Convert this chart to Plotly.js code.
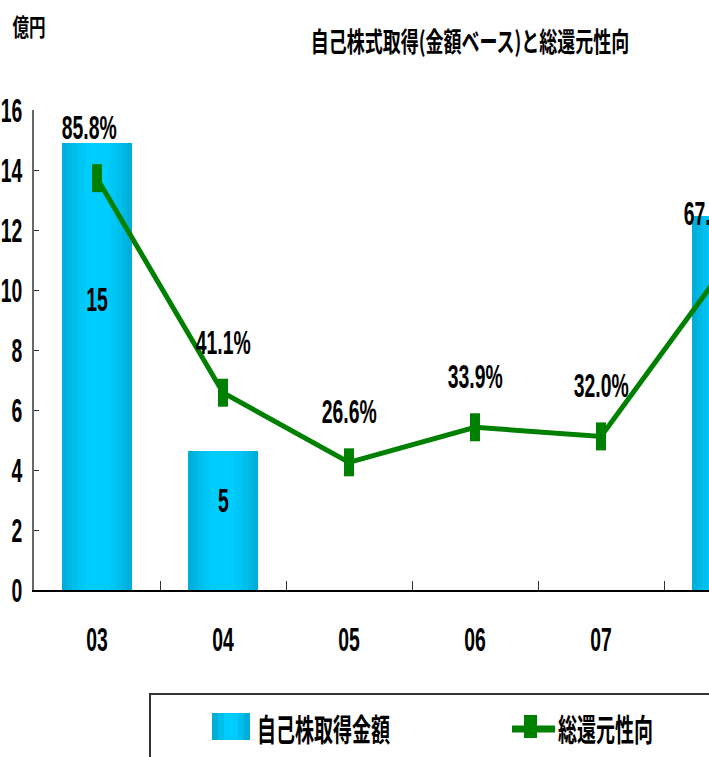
<!DOCTYPE html>
<html><head><meta charset="utf-8">
<script src="https://cdn.plot.ly/plotly-3.0.1.min.js"></script>
<style>html,body{margin:0;padding:0;background:#fff;overflow:hidden;width:709px;height:757px}#chart{width:790px;height:757px}</style>
</head><body><div id="chart"></div>
<script>
// ---- data ----
const categories = ['03','04','05','06','07','08'];
const buybackAmount = [14.9, 4.63, null, null, null, 12.47];   // 億円
const buybackLabels = ['15','5','','','','12'];
const payoutRatio = [85.8, 41.1, 26.6, 33.9, 32.0, 67.9];      // %
const yTickVals = [0,2,4,6,8,10,12,14,16];
const seriesNames = ['自己株取得金額','総還元性向'];
const chartTitle = '自己株式取得(金額ベース)と総還元性向';
const unitLabel = '億円';

// ---- styles ----
const W = 790, H = 757;   // the reference is a crop (709 px wide) of a wider chart
const NUM_FONT = '"Liberation Sans",Arial,sans-serif';
const JP_FONT = '"Noto Sans CJK JP","Noto Sans CJK SC",sans-serif';
const NUM_SIZE = 34, NUM_SCALE = 0.57;
const GREEN = '#008000';
const layers = [
  {w:0.556, c:'#00AED9'},
  {w:0.48,  c:'#00B7E3'},
  {w:0.40,  c:'#00BFEC'},
  {w:0.31,  c:'#00C6F5'},
  {w:0.20,  c:'#00CCFD'}
];
const textScale = {};
textScale[chartTitle] = 0.667;
textScale[unitLabel] = 0.69;
textScale[seriesNames[0]] = 0.613;
textScale[seriesNames[1]] = 0.613;

const traces = layers.map(l => ({
  type:'bar', x:categories, y:buybackAmount, width:l.w,
  marker:{color:l.c, line:{width:0}}, showlegend:false, hoverinfo:'skip',
  name: seriesNames[0]
}));
traces.push({
  type:'scatter', mode:'lines+markers', x:categories, y:payoutRatio, yaxis:'y2',
  name: seriesNames[1], showlegend:false,
  line:{color:GREEN, width:5},
  marker:{symbol:'line-ns', size:20, color:GREEN, line:{width:10, color:GREEN}}
});

const numFont = {family:NUM_FONT, size:NUM_SIZE, color:'#000', weight:'bold'};
const annotations = [];
categories.forEach((c,i) => {
  if (buybackAmount[i] == null) return;
  annotations.push({x:i, y:buybackAmount[i]*0.65, xref:'x', yref:'y', text:buybackLabels[i],
    showarrow:false, xanchor:'center', yanchor:'middle', font:numFont});
});
const pctShift = {0:-8, 5:-16};
categories.forEach((c,i) => {
  annotations.push({x:i, y:payoutRatio[i], xref:'x', yref:'y2', text:payoutRatio[i].toFixed(1)+'%',
    showarrow:false, xanchor:'center', yanchor:'middle', yshift:51, xshift:(pctShift[i]||0), font:numFont});
});
const plotW = W - 34, plotH = 480;
const px = v => (v-34)/plotW;        // page x -> paper
const py = v => (590-v)/plotH;       // page y -> paper
annotations.push({xref:'paper', yref:'paper', x:px(29), y:py(26), xanchor:'center', yanchor:'middle',
  text:unitLabel, showarrow:false, font:{family:JP_FONT, size:24, color:'#000', weight:'bold'}});
annotations.push({xref:'paper', yref:'paper', x:px(323), y:py(727), xanchor:'center', yanchor:'middle',
  text:seriesNames[0], showarrow:false, font:{family:JP_FONT, size:31, color:'#000', weight:'bold'}});
annotations.push({xref:'paper', yref:'paper', x:px(605), y:py(727), xanchor:'center', yanchor:'middle',
  text:seriesNames[1], showarrow:false, font:{family:JP_FONT, size:31, color:'#000', weight:'bold'}});

const shapes = [
  {type:'rect', xref:'paper', yref:'paper', x0:px(150), x1:px(780), y0:py(785), y1:py(694),
   line:{color:'#333', width:2}, fillcolor:'rgba(0,0,0,0)', layer:'above'},
  {type:'rect', xref:'paper', yref:'paper', x0:px(212), x1:px(250), y0:py(740), y1:py(713), line:{width:0}, fillcolor:'#00AED9'},
  {type:'rect', xref:'paper', yref:'paper', x0:px(218), x1:px(244), y0:py(740), y1:py(713), line:{width:0}, fillcolor:'#00BFEC'},
  {type:'rect', xref:'paper', yref:'paper', x0:px(224), x1:px(238), y0:py(740), y1:py(713), line:{width:0}, fillcolor:'#00CCFD'},
  {type:'line', xref:'paper', yref:'paper', x0:px(512), x1:px(555), y0:py(729), y1:py(729), line:{color:GREEN, width:7}},
  {type:'rect', xref:'paper', yref:'paper', x0:px(524), x1:px(537), y0:py(738), y1:py(715), line:{width:0}, fillcolor:GREEN}
];

const layout = {
  width:W, height:H,
  margin:{l:34, r:0, t:110, b:167},
  paper_bgcolor:'#fff', plot_bgcolor:'#fff',
  barmode:'overlay',
  showlegend:false,
  title:{text:chartTitle, x:470/W, xref:'container', y:1-43/H, yref:'container', xanchor:'center', yanchor:'middle',
    font:{family:JP_FONT, size:27, color:'#000', weight:'bold'}},
  xaxis:{type:'category', range:[-0.5, 5.5], showgrid:false, zeroline:false,
    showline:true, linecolor:'#000', linewidth:2,
    ticks:'inside', tickson:'boundaries', ticklen:9, tickcolor:'#333', tickwidth:1,
    ticklabelstandoff:18, tickfont:numFont},
  yaxis:{range:[0,16], tickvals:yTickVals, showgrid:false, zeroline:false,
    showline:true, linecolor:'#666', linewidth:2,
    ticks:'inside', ticklen:5, tickcolor:'#333', tickwidth:1,
    ticklabelstandoff:3, tickfont:numFont},
  yaxis2:{range:[0,100], overlaying:'y', visible:false},
  annotations, shapes
};

Plotly.newPlot('chart', traces, layout, {displayModeBar:false, staticPlot:true}).then(gd => {
  // condense glyphs horizontally (the reference uses a narrow typeface)
  gd.querySelectorAll('svg text').forEach(t => {
    const s = textScale[t.textContent] || NUM_SCALE;
    const X = parseFloat(t.getAttribute('x')) || 0;
    const tr = t.getAttribute('transform') || '';
    t.setAttribute('transform', `${tr} translate(${X},0) scale(${s},1) translate(${-X},0)`);
  });
});
</script></body></html>
